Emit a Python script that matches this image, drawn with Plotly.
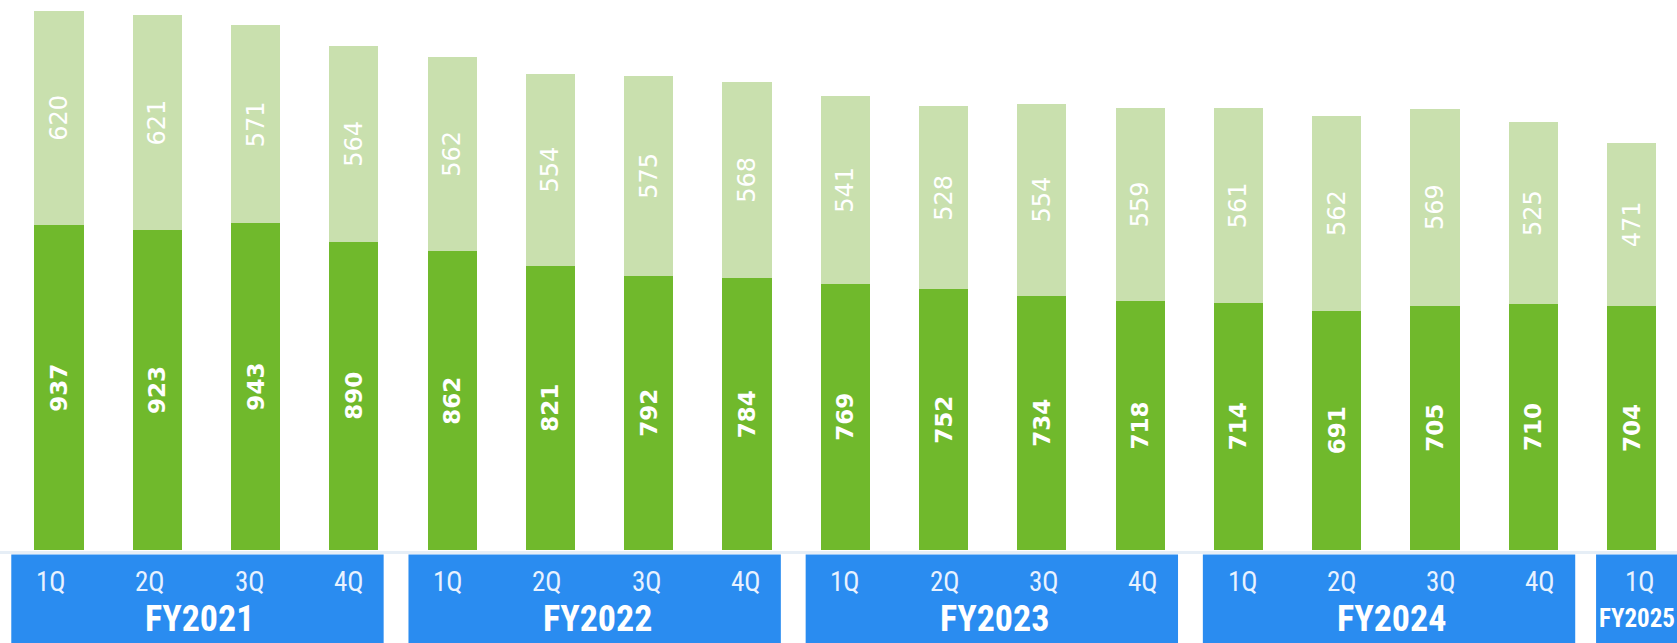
import plotly.graph_objects as go

# Quarterly values, stacked: lower (dark) and upper (light) segments
quarters = ["1Q", "2Q", "3Q", "4Q"]
fiscal_years = ["FY2021", "FY2022", "FY2023", "FY2024", "FY2025"]
periods = [f"{fy} {q}" for fy in fiscal_years for q in quarters][:17]
lower_values = [937, 923, 943, 890, 862, 821, 792, 784, 769, 752, 734, 718, 714, 691, 705, 710, 704]
upper_values = [620, 621, 571, 564, 562, 554, 575, 568, 541, 528, 554, 559, 561, 562, 569, 525, 471]

DARK_GREEN = "#70B92C"
LIGHT_GREEN = "#C9E0AE"
BAND_BLUE = "#2A8CF0"
CONDENSED = "Roboto Condensed, Liberation Sans Narrow, Roboto"

W, H = 1677, 643
BASE_PX = 550           # pixel row of the bar baseline
BAND_TOP_PX = 554.5     # pixel row where the blue period bands begin

fig = go.Figure()
fig.add_trace(go.Bar(
    x=periods, y=lower_values, marker_color=DARK_GREEN, marker_line_width=0,
    text=lower_values, textposition="inside", insidetextanchor="middle",
    textangle=-90, constraintext="none",
    textfont=dict(family="DejaVu Sans", size=23, color="white", weight="bold"),
    width=0.5, hoverinfo="x+y",
))
fig.add_trace(go.Bar(
    x=periods, y=upper_values, marker_color=LIGHT_GREEN, marker_line_width=0,
    text=upper_values, textposition="inside", insidetextanchor="middle",
    textangle=-90, constraintext="none",
    textfont=dict(family="DejaVu Sans", size=24, color="white"),
    width=0.5, hoverinfo="x+y",
))

# Period bands along the bottom, drawn on their own x scale
shapes = [dict(type="line", xref="paper", yref="paper", x0=0, x1=1,
               y0=(H - BAND_TOP_PX + 2) / H, y1=(H - BAND_TOP_PX + 2) / H,
               line=dict(color="#E6EEF6", width=3), layer="below")]
annotations = []
band_top = (H - BAND_TOP_PX) / H
q_row = (H - 581.5) / H
fy_row = (H - 618.5) / H
n_periods = len(periods)
for g, fy in enumerate(fiscal_years):
    start = 4 * g
    n_q = min(4, n_periods - start)
    left = start - (0.40 if n_q == 4 else 0.44)
    right = start + (3.35 if n_q == 4 else 1.5)
    shapes.append(dict(type="rect", xref="x2", yref="paper",
                       x0=left, x1=right, y0=-0.01, y1=band_top,
                       fillcolor=BAND_BLUE, line_width=0, layer="below"))
    for k in range(n_q):
        annotations.append(dict(x=start + k, y=q_row, xref="x2", yref="paper",
                                xanchor="center", yanchor="middle",
                                text=quarters[k], showarrow=False,
                                font=dict(family=CONDENSED, size=27, color="#E8F2FF")))
    fy_x = start + 1.5 if n_q == 4 else start - 0.03
    annotations.append(dict(x=fy_x, y=fy_row, xref="x2", yref="paper",
                            xanchor="center", yanchor="middle",
                            text=f"<b>{fy}</b>", showarrow=False,
                            font=dict(family=CONDENSED, size=36 if n_q == 4 else 25,
                                      color="white")))

fig.update_layout(
    width=W, height=H, barmode="stack", showlegend=False,
    margin=dict(l=0, r=0, t=0, b=0),
    paper_bgcolor="white", plot_bgcolor="white",
    xaxis=dict(type="category", range=[-0.6003, 16.462], domain=[0, 1],
               showticklabels=False, showgrid=False, zeroline=False, ticks=""),
    xaxis2=dict(range=[-0.5136, 16.375], overlaying="x", visible=False),
    yaxis=dict(range=[0, BASE_PX / 0.3465], domain=[(H - BASE_PX) / H, 1],
               visible=False, showgrid=False, zeroline=False),
    shapes=shapes, annotations=annotations,
)
# an invisible point so the second x scale exists
fig.add_trace(go.Scatter(x=[0], y=[0], xaxis="x2", mode="markers",
                         marker=dict(opacity=0), hoverinfo="skip", showlegend=False))

fig.write_html("out.html")
